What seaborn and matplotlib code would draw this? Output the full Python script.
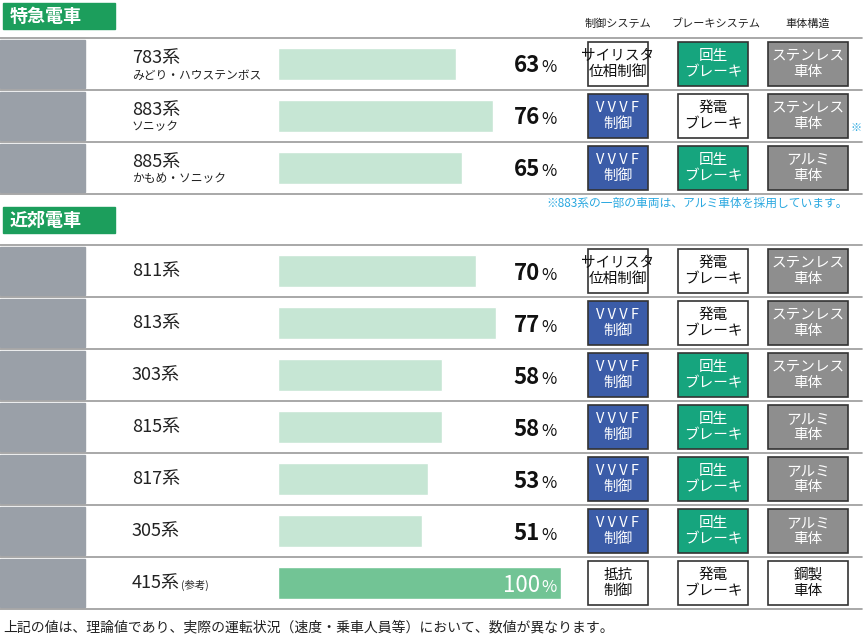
import matplotlib
matplotlib.use('Agg')
import matplotlib.pyplot as plt
import seaborn as sns
import pandas as pd
from matplotlib.patches import Rectangle

sns.set_theme(style="white")
plt.rcParams['font.family'] = ['Noto Sans CJK JP', 'DejaVu Sans']

# data
exp_names = ["783系", "883系", "885系"]
exp_subs = ["みどり・ハウステンボス", "ソニック", "かもめ・ソニック"]
exp_values = [63, 76, 65]
exp_control = ["thy", "vvvf", "vvvf"]
exp_brake = ["regen", "dyn", "regen"]
exp_body = ["sus", "sus", "alu"]

sub_names = ["811系", "813系", "303系", "815系", "817系", "305系", "415系"]
sub_values = [70, 77, 58, 58, 53, 51, 100]
sub_control = ["thy", "vvvf", "vvvf", "vvvf", "vvvf", "vvvf", "res"]
sub_brake = ["dyn", "dyn", "regen", "regen", "regen", "regen", "dyn"]
sub_body = ["sus", "sus", "sus", "alu", "alu", "alu", "steel"]

labels = {
    "thy": ("サイリスタ\n位相制御", "white"), "vvvf": ("V V V F\n制御", "#3b5ca8"),
    "res": ("抵抗\n制御", "white"), "regen": ("回生\nブレーキ", "#16a57e"),
    "dyn": ("発電\nブレーキ", "white"), "sus": ("ステンレス\n車体", "#8e8e8e"),
    "alu": ("アルミ\n車体", "#8e8e8e"), "steel": ("鋼製\n車体", "white"),
}

W, H = 867, 638
fig = plt.figure(figsize=(W / 100, H / 100), dpi=100)
ax = fig.add_axes([0, 0, 1, 1])
ax.set_xlim(0, W)
ax.set_ylim(H, 0)
ax.axis('off')
ax.set_zorder(5)

ROW = 52
exp_top, sub_top = 38, 245
BAR_X0, BAR_X1 = 278, 561


def header(y, text):
    ax.add_patch(Rectangle((3, y), 112, 26, color="#1c9e5c"))
    ax.text(10, y + 13, text, color="white", fontsize=13, fontweight='bold', va='center')


def section(top, names, values, ctrl, brake, body, subs=None):
    n = len(names)
    for i in range(n + 1):
        ax.plot([0, 862], [top + i * ROW, top + i * ROW], color="#999999", lw=1.2)
    for i in range(n):
        yc = top + i * ROW + ROW / 2
        ax.add_patch(Rectangle((0, top + i * ROW + 2), 85, ROW - 4, color="#9aa0a8"))
        nm = names[i]
        if subs:
            ax.text(132, yc - 6, nm, fontsize=13, va='center', color="#222")
            ax.text(132, yc + 11, subs[i], fontsize=8.5, va='center', color="#222")
        elif nm == "415系":
            ax.text(132, yc, nm, fontsize=13, va='center', color="#222")
            ax.text(181, yc + 2, "(参考)", fontsize=7.5, va='center', color="#222")
        else:
            ax.text(132, yc, nm, fontsize=13, va='center', color="#222")
        v = values[i]
        if v == 100:
            ax.text(540, yc + 2, "100", fontsize=16, ha='right', va='center', color="white")
            ax.text(541, yc + 4, "%", fontsize=12, ha='left', va='center', color="white")
        else:
            ax.text(540, yc + 2, str(v), fontsize=16, fontweight='bold', ha='right', va='center', color="#111")
            ax.text(541, yc + 4, "%", fontsize=12, ha='left', va='center', color="#111")
        for key, x0, w in [(ctrl[i], 588, 60), (brake[i], 678, 70), (body[i], 768, 80)]:
            txt, col = labels[key]
            ax.add_patch(Rectangle((x0, yc - 22), w, 44, facecolor=col, edgecolor="#333", lw=1.2))
            ax.text(x0 + w / 2, yc, txt, fontsize=10.5, ha='center', va='center', linespacing=1.25,
                    color="#111" if col == "white" else "white")
    # bars drawn in a separate axes with its own value scale
    bax = fig.add_axes([BAR_X0 / W, 1 - (top + n * ROW) / H, (BAR_X1 - BAR_X0) / W, n * ROW / H])
    df = pd.DataFrame({"name": names, "value": values})
    palette = {nm: ("#72c495" if v == 100 else "#c6e6d4") for nm, v in zip(names, values)}
    sns.barplot(data=df, x="value", y="name", hue="name", palette=palette, legend=False,
                orient='h', width=0.62, ax=bax, saturation=1)
    bax.set_xlim(0, 100)
    bax.set_ylim(n - 0.5, -0.5)
    bax.axis('off')
    bax.patch.set_alpha(0)


header(3, "特急電車")
header(207, "近郊電車")
for x, t in [(618, "制御システム"), (716, "ブレーキシステム"), (808, "車体構造")]:
    ax.text(x, 24, t, fontsize=8, ha='center', va='center', color="#222")

section(exp_top, exp_names, exp_values, exp_control, exp_brake, exp_body, exp_subs)
section(sub_top, sub_names, sub_values, sub_control, sub_brake, sub_body)

ax.text(848, 203, "※883系の一部の車両は、アルミ車体を採用しています。", fontsize=8.5,
        ha='right', va='center', color="#2aa8e0")
ax.text(856, 128, "※", fontsize=8, ha='center', va='center', color="#2aa8e0")
ax.text(3, 627, "上記の値は、理論値であり、実際の運転状況（速度・乗車人員等）において、数値が異なります。",
        fontsize=10, va='center', color="#222")

fig.savefig("out.png", dpi=100)
